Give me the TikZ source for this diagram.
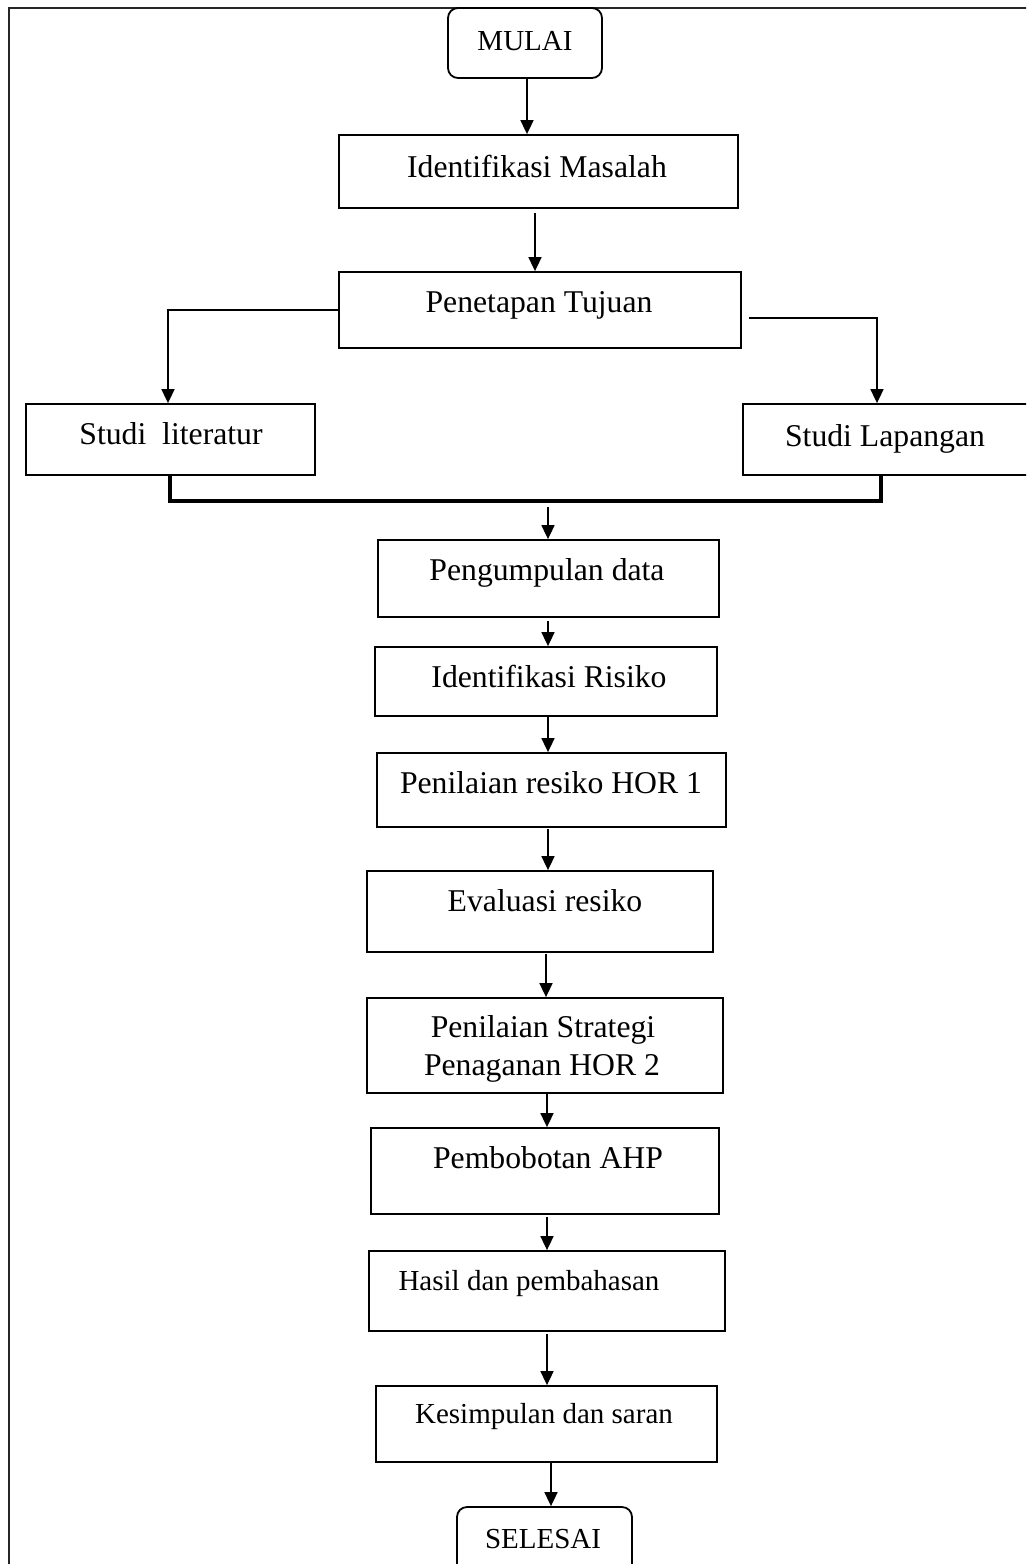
\documentclass[tikz,border=0pt]{standalone}
\usepackage{fontspec}
\setmainfont{Liberation Serif}
\usetikzlibrary{arrows.meta}
\begin{document}
\begin{tikzpicture}[x=1pt,y=-1pt,
  box/.style={draw, line width=1.8pt, inner sep=0pt},
  term/.style={box, rounded corners=10pt},
  lbl/.style={inner sep=0pt, anchor=base, font=\fontsize{31.7}{38}\selectfont},
  lbls/.style={inner sep=0pt, anchor=base, font=\fontsize{29}{35}\selectfont},
  arr/.style={line width=1.7pt, -{Triangle[length=14pt,width=13pt]}},
  bracket/.style={line width=3.2pt},
  frame/.style={line width=2.2pt, black!85}]
\useasboundingbox (0,0) rectangle (1026,1564);
\clip (0,0) rectangle (1026,1564);

% page frame (left and top edges)
\draw[frame] (9,1570) -- (9,8) -- (1030,8);

% boxes
\node[term, minimum width=154pt, minimum height=70pt] (mulai) at (525,43) {};
\node[box, minimum width=399pt, minimum height=73pt] (idm) at (538.5,171.5) {};
\node[box, minimum width=402pt, minimum height=76pt] (pt) at (540,310) {};
\node[box, minimum width=289pt, minimum height=71pt] (sl) at (170.5,439.5) {};
\node[box, minimum width=287pt, minimum height=71pt] (slap) at (886.5,439.5) {};
\node[box, minimum width=341pt, minimum height=77pt] (pd) at (548.5,578.5) {};
\node[box, minimum width=342pt, minimum height=69pt] (ir) at (546,681.5) {};
\node[box, minimum width=349pt, minimum height=74pt] (ph) at (551.5,790) {};
\node[box, minimum width=346pt, minimum height=81pt] (er) at (540,911.5) {};
\node[box, minimum width=356pt, minimum height=95pt] (ps) at (545,1045.5) {};
\node[box, minimum width=348pt, minimum height=86pt] (pa) at (545,1171) {};
\node[box, minimum width=356pt, minimum height=80pt] (hp) at (547,1291) {};
\node[box, minimum width=341pt, minimum height=76pt] (ks) at (546.5,1424) {};
\node[term, minimum width=175pt, minimum height=68pt] (selesai) at (544.5,1541) {};

% texts
\node[lbls] (t-mulai) at (525,50) {MULAI};
\node[lbl] (t-idm) at (537,177) {Identifikasi Masalah};
\node[lbl] (t-pt) at (539,312) {Penetapan Tujuan};
\node[lbl] (t-sl) at (171,444) {Studi\ \ literatur};
\node[lbl] (t-slap) at (885,446) {Studi Lapangan};
\node[lbl] (t-pd) at (547,580) {Pengumpulan data};
\node[lbl] (t-ir) at (549,687) {Identifikasi Risiko};
\node[lbl] (t-ph) at (551,793) {Penilaian resiko HOR 1};
\node[lbl] (t-er) at (545,911) {Evaluasi resiko};
\node[lbl] (t-ps1) at (543,1037) {Penilaian Strategi};
\node[lbl] (t-ps2) at (542,1075) {Penaganan HOR 2};
\node[lbl] (t-pa) at (548,1168) {Pembobotan AHP};
\node[lbls] (t-hp) at (529,1290) {Hasil dan pembahasan};
\node[lbls] (t-ks) at (544,1423) {Kesimpulan dan saran};
\node[lbls] (t-selesai) at (543,1548) {SELESAI};

% connectors
\draw[arr] (mulai.south -| 527,0) -- (idm.north -| 527,0);
\draw[arr, shorten <=4pt] (idm.south -| 535,0) -- (pt.north -| 535,0);
\draw[arr] (pt.west |- 0,310) -| (sl.north -| 168,0);
\draw[arr, shorten <=7pt] (pt.east |- 0,318) -| (slap.north -| 877,0);

\coordinate (join) at (548,501);
\draw[bracket] (sl.south -| 170,0) |- (join) -| (slap.south -| 881,0);
\draw[arr, shorten <=6pt] (join) -- (pd.north -| join);

\draw[arr, shorten <=3pt] (pd.south -| 548,0) -- (ir.north -| 548,0);
\draw[arr] (ir.south -| 548,0) -- (ph.north -| 548,0);
\draw[arr, shorten <=1pt] (ph.south -| 548,0) -- (er.north -| 548,0);
\draw[arr, shorten <=1pt] (er.south -| 546,0) -- (ps.north -| 546,0);
\draw[arr] (ps.south -| 547,0) -- (pa.north -| 547,0);
\draw[arr, shorten <=2pt] (pa.south -| 547,0) -- (hp.north -| 547,0);
\draw[arr, shorten <=2pt] (hp.south -| 547,0) -- (ks.north -| 547,0);
\draw[arr] (ks.south -| 551,0) -- (selesai.north -| 551,0);
\end{tikzpicture}
\end{document}
